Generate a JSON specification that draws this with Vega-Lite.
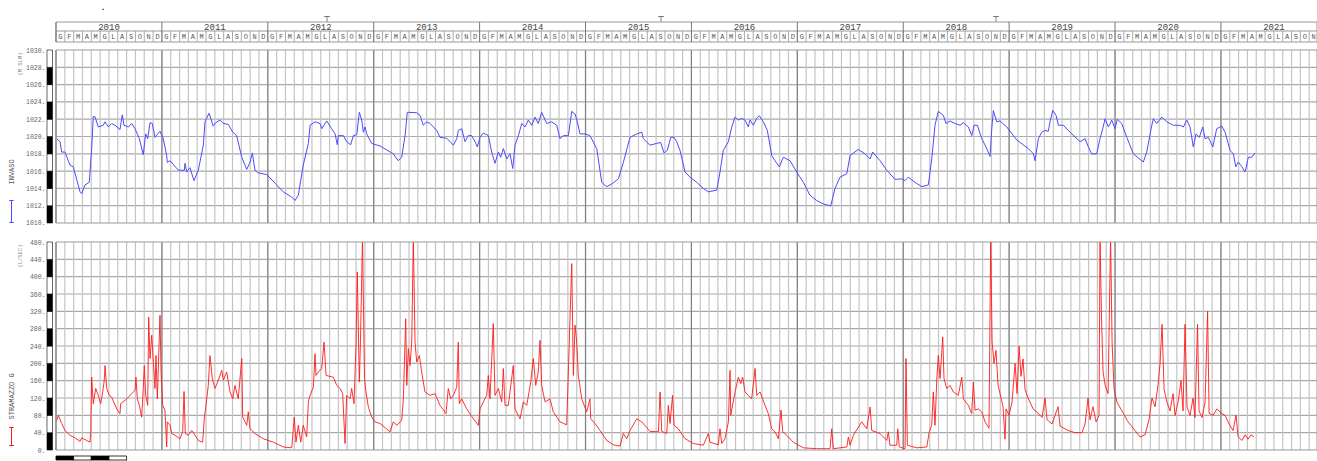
{
"$schema": "https://vega.github.io/schema/vega-lite/v6.json",
"background": "white",
"padding": {"left": 0, "top": 0, "right": 0, "bottom": 0},
"bounds": "flush",
"spacing": 0,
"resolve": {"scale": {"color": "independent"}, "legend": {"color": "independent"}},
"config": {"view": {"stroke": null}, "title": {"fontWeight": "normal"}},
"datasets": {
"anni": [{"anno":2010},{"anno":2011},{"anno":2012},{"anno":2013},{"anno":2014},{"anno":2015},{"anno":2016},{"anno":2017},{"anno":2018},{"anno":2019},{"anno":2020},{"anno":2021}],
"mesi": [
{"inizio":2010,"lettera":"G"},{"inizio":2010.0833,"lettera":"F"},{"inizio":2010.1667,"lettera":"M"},{"inizio":2010.25,"lettera":"A"},{"inizio":2010.3333,"lettera":"M"},{"inizio":2010.4167,"lettera":"G"},{"inizio":2010.5,"lettera":"L"},{"inizio":2010.5833,"lettera":"A"},{"inizio":2010.6667,"lettera":"S"},{"inizio":2010.75,"lettera":"O"},{"inizio":2010.8333,"lettera":"N"},{"inizio":2010.9167,"lettera":"D"},
{"inizio":2011,"lettera":"G"},{"inizio":2011.0833,"lettera":"F"},{"inizio":2011.1667,"lettera":"M"},{"inizio":2011.25,"lettera":"A"},{"inizio":2011.3333,"lettera":"M"},{"inizio":2011.4167,"lettera":"G"},{"inizio":2011.5,"lettera":"L"},{"inizio":2011.5833,"lettera":"A"},{"inizio":2011.6667,"lettera":"S"},{"inizio":2011.75,"lettera":"O"},{"inizio":2011.8333,"lettera":"N"},{"inizio":2011.9167,"lettera":"D"},
{"inizio":2012,"lettera":"G"},{"inizio":2012.0833,"lettera":"F"},{"inizio":2012.1667,"lettera":"M"},{"inizio":2012.25,"lettera":"A"},{"inizio":2012.3333,"lettera":"M"},{"inizio":2012.4167,"lettera":"G"},{"inizio":2012.5,"lettera":"L"},{"inizio":2012.5833,"lettera":"A"},{"inizio":2012.6667,"lettera":"S"},{"inizio":2012.75,"lettera":"O"},{"inizio":2012.8333,"lettera":"N"},{"inizio":2012.9167,"lettera":"D"},
{"inizio":2013,"lettera":"G"},{"inizio":2013.0833,"lettera":"F"},{"inizio":2013.1667,"lettera":"M"},{"inizio":2013.25,"lettera":"A"},{"inizio":2013.3333,"lettera":"M"},{"inizio":2013.4167,"lettera":"G"},{"inizio":2013.5,"lettera":"L"},{"inizio":2013.5833,"lettera":"A"},{"inizio":2013.6667,"lettera":"S"},{"inizio":2013.75,"lettera":"O"},{"inizio":2013.8333,"lettera":"N"},{"inizio":2013.9167,"lettera":"D"},
{"inizio":2014,"lettera":"G"},{"inizio":2014.0833,"lettera":"F"},{"inizio":2014.1667,"lettera":"M"},{"inizio":2014.25,"lettera":"A"},{"inizio":2014.3333,"lettera":"M"},{"inizio":2014.4167,"lettera":"G"},{"inizio":2014.5,"lettera":"L"},{"inizio":2014.5833,"lettera":"A"},{"inizio":2014.6667,"lettera":"S"},{"inizio":2014.75,"lettera":"O"},{"inizio":2014.8333,"lettera":"N"},{"inizio":2014.9167,"lettera":"D"},
{"inizio":2015,"lettera":"G"},{"inizio":2015.0833,"lettera":"F"},{"inizio":2015.1667,"lettera":"M"},{"inizio":2015.25,"lettera":"A"},{"inizio":2015.3333,"lettera":"M"},{"inizio":2015.4167,"lettera":"G"},{"inizio":2015.5,"lettera":"L"},{"inizio":2015.5833,"lettera":"A"},{"inizio":2015.6667,"lettera":"S"},{"inizio":2015.75,"lettera":"O"},{"inizio":2015.8333,"lettera":"N"},{"inizio":2015.9167,"lettera":"D"},
{"inizio":2016,"lettera":"G"},{"inizio":2016.0833,"lettera":"F"},{"inizio":2016.1667,"lettera":"M"},{"inizio":2016.25,"lettera":"A"},{"inizio":2016.3333,"lettera":"M"},{"inizio":2016.4167,"lettera":"G"},{"inizio":2016.5,"lettera":"L"},{"inizio":2016.5833,"lettera":"A"},{"inizio":2016.6667,"lettera":"S"},{"inizio":2016.75,"lettera":"O"},{"inizio":2016.8333,"lettera":"N"},{"inizio":2016.9167,"lettera":"D"},
{"inizio":2017,"lettera":"G"},{"inizio":2017.0833,"lettera":"F"},{"inizio":2017.1667,"lettera":"M"},{"inizio":2017.25,"lettera":"A"},{"inizio":2017.3333,"lettera":"M"},{"inizio":2017.4167,"lettera":"G"},{"inizio":2017.5,"lettera":"L"},{"inizio":2017.5833,"lettera":"A"},{"inizio":2017.6667,"lettera":"S"},{"inizio":2017.75,"lettera":"O"},{"inizio":2017.8333,"lettera":"N"},{"inizio":2017.9167,"lettera":"D"},
{"inizio":2018,"lettera":"G"},{"inizio":2018.0833,"lettera":"F"},{"inizio":2018.1667,"lettera":"M"},{"inizio":2018.25,"lettera":"A"},{"inizio":2018.3333,"lettera":"M"},{"inizio":2018.4167,"lettera":"G"},{"inizio":2018.5,"lettera":"L"},{"inizio":2018.5833,"lettera":"A"},{"inizio":2018.6667,"lettera":"S"},{"inizio":2018.75,"lettera":"O"},{"inizio":2018.8333,"lettera":"N"},{"inizio":2018.9167,"lettera":"D"},
{"inizio":2019,"lettera":"G"},{"inizio":2019.0833,"lettera":"F"},{"inizio":2019.1667,"lettera":"M"},{"inizio":2019.25,"lettera":"A"},{"inizio":2019.3333,"lettera":"M"},{"inizio":2019.4167,"lettera":"G"},{"inizio":2019.5,"lettera":"L"},{"inizio":2019.5833,"lettera":"A"},{"inizio":2019.6667,"lettera":"S"},{"inizio":2019.75,"lettera":"O"},{"inizio":2019.8333,"lettera":"N"},{"inizio":2019.9167,"lettera":"D"},
{"inizio":2020,"lettera":"G"},{"inizio":2020.0833,"lettera":"F"},{"inizio":2020.1667,"lettera":"M"},{"inizio":2020.25,"lettera":"A"},{"inizio":2020.3333,"lettera":"M"},{"inizio":2020.4167,"lettera":"G"},{"inizio":2020.5,"lettera":"L"},{"inizio":2020.5833,"lettera":"A"},{"inizio":2020.6667,"lettera":"S"},{"inizio":2020.75,"lettera":"O"},{"inizio":2020.8333,"lettera":"N"},{"inizio":2020.9167,"lettera":"D"},
{"inizio":2021,"lettera":"G"},{"inizio":2021.0833,"lettera":"F"},{"inizio":2021.1667,"lettera":"M"},{"inizio":2021.25,"lettera":"A"},{"inizio":2021.3333,"lettera":"M"},{"inizio":2021.4167,"lettera":"G"},{"inizio":2021.5,"lettera":"L"},{"inizio":2021.5833,"lettera":"A"},{"inizio":2021.6667,"lettera":"S"},{"inizio":2021.75,"lettera":"O"},{"inizio":2021.8333,"lettera":"N"}
],
"strisce_invaso": [{"da":1010,"a":1012,"tono":"scuro"},{"da":1012,"a":1014,"tono":"chiaro"},{"da":1014,"a":1016,"tono":"scuro"},{"da":1016,"a":1018,"tono":"chiaro"},{"da":1018,"a":1020,"tono":"scuro"},{"da":1020,"a":1022,"tono":"chiaro"},{"da":1022,"a":1024,"tono":"scuro"},{"da":1024,"a":1026,"tono":"chiaro"},{"da":1026,"a":1028,"tono":"scuro"},{"da":1028,"a":1030,"tono":"chiaro"}],
"strisce_portata": [{"da":0,"a":40,"tono":"scuro"},{"da":40,"a":80,"tono":"chiaro"},{"da":80,"a":120,"tono":"scuro"},{"da":120,"a":160,"tono":"chiaro"},{"da":160,"a":200,"tono":"scuro"},{"da":200,"a":240,"tono":"chiaro"},{"da":240,"a":280,"tono":"scuro"},{"da":280,"a":320,"tono":"chiaro"},{"da":320,"a":360,"tono":"scuro"},{"da":360,"a":400,"tono":"chiaro"},{"da":400,"a":440,"tono":"scuro"},{"da":440,"a":480,"tono":"chiaro"}],
"scala": [{"da":2010,"a":2010.1667,"tono":"scuro"},{"da":2010.1667,"a":2010.3333,"tono":"chiaro"},{"da":2010.3333,"a":2010.5,"tono":"scuro"},{"da":2010.5,"a":2010.6667,"tono":"chiaro"}],
"invaso": [
{"t":2010.007,"livello":1019.75},{"t":2010.038,"livello":1019.4},{"t":2010.054,"livello":1018.2},{"t":2010.085,"livello":1018.2},{"t":2010.132,"livello":1016.7},{"t":2010.163,"livello":1016.5},{"t":2010.227,"livello":1013.6},{"t":2010.243,"livello":1013.4},{"t":2010.274,"livello":1014.4},{"t":2010.314,"livello":1014.7},{"t":2010.337,"livello":1018.6},{"t":2010.352,"livello":1022.3},{"t":2010.368,"livello":1022.3},{"t":2010.399,"livello":1021.1},{"t":2010.447,"livello":1021.3},{"t":2010.463,"livello":1021.7},{"t":2010.494,"livello":1021.1},{"t":2010.526,"livello":1021.5},{"t":2010.557,"livello":1021.3},{"t":2010.604,"livello":1020.8},{"t":2010.626,"livello":1022.5},{"t":2010.642,"livello":1021.3},{"t":2010.683,"livello":1021.1},{"t":2010.715,"livello":1021.5},{"t":2010.746,"livello":1020.9},{"t":2010.787,"livello":1019.75},{"t":2010.824,"livello":1017.9},{"t":2010.847,"livello":1020.3},{"t":2010.866,"livello":1019.75},{"t":2010.888,"livello":1021.6},{"t":2010.909,"livello":1021.5},{"t":2010.935,"livello":1019.9},{"t":2010.982,"livello":1020.6},
{"t":2011.013,"livello":1019.75},{"t":2011.045,"livello":1017.8},{"t":2011.051,"livello":1017.0},{"t":2011.077,"livello":1017.2},{"t":2011.155,"livello":1016.1},{"t":2011.212,"livello":1016.1},{"t":2011.218,"livello":1016.9},{"t":2011.234,"livello":1015.9},{"t":2011.265,"livello":1016.4},{"t":2011.303,"livello":1014.9},{"t":2011.344,"livello":1016.1},{"t":2011.391,"livello":1019.0},{"t":2011.407,"livello":1021.7},{"t":2011.445,"livello":1022.7},{"t":2011.485,"livello":1021.2},{"t":2011.508,"livello":1021.6},{"t":2011.549,"livello":1021.9},{"t":2011.58,"livello":1021.5},{"t":2011.627,"livello":1021.4},{"t":2011.669,"livello":1020.5},{"t":2011.706,"livello":1020.1},{"t":2011.754,"livello":1017.6},{"t":2011.801,"livello":1016.2},{"t":2011.832,"livello":1017.0},{"t":2011.854,"livello":1018.1},{"t":2011.879,"livello":1016.1},{"t":2011.91,"livello":1015.8},{"t":2011.99,"livello":1015.6},
{"t":2012.084,"livello":1014.4},{"t":2012.146,"livello":1013.6},{"t":2012.226,"livello":1013.0},{"t":2012.257,"livello":1012.6},{"t":2012.288,"livello":1013.2},{"t":2012.335,"livello":1016.7},{"t":2012.383,"livello":1019.2},{"t":2012.399,"livello":1021.3},{"t":2012.446,"livello":1021.7},{"t":2012.493,"livello":1021.5},{"t":2012.509,"livello":1020.9},{"t":2012.556,"livello":1021.8},{"t":2012.603,"livello":1020.9},{"t":2012.635,"livello":1020.3},{"t":2012.656,"livello":1019.05},{"t":2012.666,"livello":1020.1},{"t":2012.713,"livello":1020.1},{"t":2012.745,"livello":1019.4},{"t":2012.783,"livello":1019.05},{"t":2012.807,"livello":1020.1},{"t":2012.84,"livello":1020.2},{"t":2012.864,"livello":1022.8},{"t":2012.887,"livello":1021.9},{"t":2012.902,"livello":1020.5},{"t":2012.918,"livello":1021.1},{"t":2012.934,"livello":1020.3},{"t":2012.981,"livello":1019.2},
{"t":2013.06,"livello":1018.9},{"t":2013.185,"livello":1018.0},{"t":2013.232,"livello":1017.2},{"t":2013.264,"livello":1017.6},{"t":2013.296,"livello":1020.1},{"t":2013.317,"livello":1022.8},{"t":2013.406,"livello":1022.75},{"t":2013.437,"livello":1022.45},{"t":2013.468,"livello":1021.3},{"t":2013.5,"livello":1021.7},{"t":2013.532,"livello":1021.5},{"t":2013.595,"livello":1020.7},{"t":2013.626,"livello":1019.9},{"t":2013.689,"livello":1019.8},{"t":2013.752,"livello":1019.0},{"t":2013.784,"livello":1019.75},{"t":2013.799,"livello":1020.7},{"t":2013.831,"livello":1020.9},{"t":2013.862,"livello":1019.4},{"t":2013.893,"livello":1020.1},{"t":2013.925,"livello":1020.1},{"t":2013.957,"livello":1019.4},{"t":2013.978,"livello":1018.8},
{"t":2014.004,"livello":1019.9},{"t":2014.035,"livello":1020.4},{"t":2014.082,"livello":1020.1},{"t":2014.114,"livello":1018.2},{"t":2014.145,"livello":1016.9},{"t":2014.177,"livello":1018.2},{"t":2014.199,"livello":1017.6},{"t":2014.224,"livello":1018.6},{"t":2014.256,"livello":1017.4},{"t":2014.287,"livello":1018.0},{"t":2014.313,"livello":1016.3},{"t":2014.334,"livello":1019.0},{"t":2014.366,"livello":1020.1},{"t":2014.398,"livello":1021.5},{"t":2014.429,"livello":1021.1},{"t":2014.46,"livello":1021.9},{"t":2014.492,"livello":1021.3},{"t":2014.523,"livello":1022.25},{"t":2014.554,"livello":1021.5},{"t":2014.586,"livello":1022.8},{"t":2014.634,"livello":1021.5},{"t":2014.681,"livello":1021.7},{"t":2014.728,"livello":1021.3},{"t":2014.759,"livello":1019.75},{"t":2014.79,"livello":1020.1},{"t":2014.838,"livello":1020.1},{"t":2014.87,"livello":1022.9},{"t":2014.901,"livello":1022.6},{"t":2014.923,"livello":1021.7},{"t":2014.948,"livello":1020.3},{"t":2014.995,"livello":1020.3},
{"t":2015.042,"livello":1020.1},{"t":2015.106,"livello":1018.6},{"t":2015.153,"livello":1014.7},{"t":2015.2,"livello":1014.2},{"t":2015.247,"livello":1014.5},{"t":2015.31,"livello":1015.1},{"t":2015.357,"livello":1017.0},{"t":2015.42,"livello":1019.9},{"t":2015.484,"livello":1020.3},{"t":2015.531,"livello":1020.5},{"t":2015.546,"livello":1019.75},{"t":2015.609,"livello":1019.0},{"t":2015.672,"livello":1019.2},{"t":2015.71,"livello":1019.3},{"t":2015.741,"livello":1018.1},{"t":2015.772,"livello":1018.4},{"t":2015.805,"livello":1019.9},{"t":2015.836,"livello":1019.9},{"t":2015.861,"livello":1019.4},{"t":2015.892,"livello":1018.4},{"t":2015.94,"livello":1015.9},{"t":2015.987,"livello":1015.3},
{"t":2016.05,"livello":1014.7},{"t":2016.112,"livello":1014.0},{"t":2016.16,"livello":1013.6},{"t":2016.239,"livello":1013.8},{"t":2016.27,"livello":1015.9},{"t":2016.301,"livello":1018.4},{"t":2016.349,"livello":1019.4},{"t":2016.381,"livello":1021.1},{"t":2016.412,"livello":1022.25},{"t":2016.443,"livello":1021.9},{"t":2016.475,"livello":1022.1},{"t":2016.506,"livello":1021.9},{"t":2016.537,"livello":1021.1},{"t":2016.553,"livello":1021.9},{"t":2016.585,"livello":1021.3},{"t":2016.617,"livello":1022.1},{"t":2016.641,"livello":1022.4},{"t":2016.679,"livello":1021.7},{"t":2016.717,"livello":1020.7},{"t":2016.758,"livello":1017.8},{"t":2016.789,"livello":1017.2},{"t":2016.83,"livello":1016.5},{"t":2016.868,"livello":1017.6},{"t":2016.931,"livello":1017.2},{"t":2016.994,"livello":1015.9},
{"t":2017.057,"livello":1014.7},{"t":2017.12,"livello":1013.2},{"t":2017.183,"livello":1012.6},{"t":2017.246,"livello":1012.2},{"t":2017.315,"livello":1011.97},{"t":2017.356,"livello":1014.0},{"t":2017.403,"livello":1015.3},{"t":2017.467,"livello":1015.7},{"t":2017.498,"livello":1017.8},{"t":2017.576,"livello":1018.5},{"t":2017.639,"livello":1018.0},{"t":2017.687,"livello":1017.4},{"t":2017.712,"livello":1018.2},{"t":2017.781,"livello":1017.2},{"t":2017.844,"livello":1016.1},{"t":2017.923,"livello":1015.05},{"t":2017.986,"livello":1015.1},
{"t":2018.017,"livello":1014.9},{"t":2018.048,"livello":1015.3},{"t":2018.111,"livello":1014.7},{"t":2018.175,"livello":1014.2},{"t":2018.237,"livello":1014.4},{"t":2018.269,"livello":1017.4},{"t":2018.3,"livello":1021.3},{"t":2018.331,"livello":1022.9},{"t":2018.379,"livello":1022.45},{"t":2018.404,"livello":1021.5},{"t":2018.442,"livello":1021.8},{"t":2018.489,"livello":1021.5},{"t":2018.536,"livello":1021.3},{"t":2018.568,"livello":1021.6},{"t":2018.615,"livello":1021.1},{"t":2018.647,"livello":1020.1},{"t":2018.669,"livello":1021.3},{"t":2018.7,"livello":1021.3},{"t":2018.741,"livello":1019.75},{"t":2018.773,"livello":1019.0},{"t":2018.82,"livello":1017.7},{"t":2018.836,"livello":1020.9},{"t":2018.851,"livello":1023.0},{"t":2018.883,"livello":1021.7},{"t":2018.914,"livello":1021.8},{"t":2018.977,"livello":1021.1},
{"t":2019.072,"livello":1019.6},{"t":2019.181,"livello":1018.6},{"t":2019.229,"livello":1018.0},{"t":2019.245,"livello":1017.2},{"t":2019.276,"livello":1019.75},{"t":2019.308,"livello":1020.5},{"t":2019.339,"livello":1020.7},{"t":2019.37,"livello":1020.6},{"t":2019.386,"livello":1021.7},{"t":2019.412,"livello":1023.0},{"t":2019.443,"livello":1022.45},{"t":2019.465,"livello":1021.3},{"t":2019.512,"livello":1021.3},{"t":2019.575,"livello":1020.5},{"t":2019.67,"livello":1019.4},{"t":2019.717,"livello":1019.75},{"t":2019.748,"livello":1018.8},{"t":2019.78,"livello":1018.0},{"t":2019.827,"livello":1018.0},{"t":2019.858,"livello":1019.75},{"t":2019.884,"livello":1020.9},{"t":2019.906,"livello":1022.05},{"t":2019.937,"livello":1021.1},{"t":2019.969,"livello":1021.9},
{"t":2020.0,"livello":1020.9},{"t":2020.022,"livello":1022.0},{"t":2020.063,"livello":1021.5},{"t":2020.111,"livello":1019.9},{"t":2020.173,"livello":1018.0},{"t":2020.267,"livello":1017.05},{"t":2020.299,"livello":1018.2},{"t":2020.347,"livello":1021.3},{"t":2020.362,"livello":1022.05},{"t":2020.394,"livello":1021.5},{"t":2020.441,"livello":1022.25},{"t":2020.488,"livello":1021.7},{"t":2020.551,"livello":1021.3},{"t":2020.614,"livello":1021.3},{"t":2020.645,"livello":1021.1},{"t":2020.677,"livello":1021.9},{"t":2020.708,"livello":1021.1},{"t":2020.739,"livello":1018.8},{"t":2020.765,"livello":1020.3},{"t":2020.796,"livello":1019.9},{"t":2020.828,"livello":1021.1},{"t":2020.85,"livello":1019.75},{"t":2020.881,"livello":1019.9},{"t":2020.923,"livello":1018.8},{"t":2020.96,"livello":1020.9},
{"t":2021.008,"livello":1021.2},{"t":2021.039,"livello":1020.5},{"t":2021.086,"livello":1018.4},{"t":2021.117,"livello":1018.0},{"t":2021.14,"livello":1016.5},{"t":2021.164,"livello":1017.05},{"t":2021.197,"livello":1016.5},{"t":2021.228,"livello":1015.9},{"t":2021.259,"livello":1017.6},{"t":2021.291,"livello":1017.6},{"t":2021.322,"livello":1018.1}
],
"stramazzo": [
{"t":2010.007,"portata":68},{"t":2010.022,"portata":80},{"t":2010.054,"portata":61},{"t":2010.085,"portata":45},{"t":2010.132,"portata":34},{"t":2010.179,"portata":28},{"t":2010.227,"portata":20},{"t":2010.243,"portata":28},{"t":2010.29,"portata":22},{"t":2010.321,"portata":18},{"t":2010.328,"portata":42},{"t":2010.337,"portata":168},{"t":2010.352,"portata":107},{"t":2010.375,"portata":142},{"t":2010.399,"portata":126},{"t":2010.422,"portata":107},{"t":2010.441,"portata":134},{"t":2010.456,"portata":161},{"t":2010.463,"portata":195},{"t":2010.479,"portata":142},{"t":2010.503,"portata":126},{"t":2010.526,"portata":122},{"t":2010.573,"portata":95},{"t":2010.604,"portata":84},{"t":2010.611,"portata":107},{"t":2010.668,"portata":118},{"t":2010.746,"portata":138},{"t":2010.755,"portata":168},{"t":2010.768,"portata":118},{"t":2010.787,"portata":103},{"t":2010.809,"portata":76},{"t":2010.824,"portata":142},{"t":2010.834,"portata":195},{"t":2010.847,"portata":126},{"t":2010.866,"portata":103},{"t":2010.875,"portata":307},{"t":2010.888,"portata":211},{"t":2010.904,"portata":265},{"t":2010.919,"portata":203},{"t":2010.935,"portata":142},{"t":2010.944,"portata":218},{"t":2010.957,"portata":118},{"t":2010.982,"portata":311},{"t":2010.992,"portata":180},
{"t":2011.008,"portata":103},{"t":2011.029,"portata":92},{"t":2011.045,"portata":7},{"t":2011.051,"portata":65},{"t":2011.077,"portata":57},{"t":2011.093,"portata":38},{"t":2011.124,"portata":34},{"t":2011.171,"portata":26},{"t":2011.196,"portata":42},{"t":2011.209,"portata":135},{"t":2011.221,"portata":38},{"t":2011.249,"portata":34},{"t":2011.281,"portata":45},{"t":2011.303,"portata":38},{"t":2011.344,"portata":22},{"t":2011.385,"portata":18},{"t":2011.4,"portata":72},{"t":2011.416,"portata":103},{"t":2011.438,"portata":149},{"t":2011.454,"portata":218},{"t":2011.476,"portata":165},{"t":2011.501,"portata":142},{"t":2011.533,"portata":161},{"t":2011.565,"portata":184},{"t":2011.58,"portata":161},{"t":2011.612,"portata":180},{"t":2011.643,"portata":134},{"t":2011.669,"portata":118},{"t":2011.69,"portata":149},{"t":2011.721,"portata":118},{"t":2011.754,"portata":211},{"t":2011.763,"portata":76},{"t":2011.801,"portata":57},{"t":2011.816,"portata":88},{"t":2011.832,"portata":49},{"t":2011.879,"portata":38},{"t":2011.958,"portata":26},
{"t":2012.052,"portata":18},{"t":2012.146,"portata":7},{"t":2012.226,"portata":5},{"t":2012.25,"portata":76},{"t":2012.266,"portata":18},{"t":2012.288,"portata":57},{"t":2012.311,"portata":18},{"t":2012.335,"portata":57},{"t":2012.367,"portata":30},{"t":2012.383,"portata":111},{"t":2012.399,"portata":126},{"t":2012.43,"portata":145},{"t":2012.446,"portata":222},{"t":2012.455,"portata":172},{"t":2012.477,"portata":180},{"t":2012.509,"portata":188},{"t":2012.531,"portata":249},{"t":2012.55,"portata":172},{"t":2012.619,"portata":168},{"t":2012.651,"portata":149},{"t":2012.682,"portata":142},{"t":2012.707,"portata":130},{"t":2012.729,"portata":15},{"t":2012.745,"portata":126},{"t":2012.776,"portata":118},{"t":2012.792,"portata":142},{"t":2012.814,"portata":107},{"t":2012.833,"portata":242},{"t":2012.845,"portata":411},{"t":2012.864,"portata":157},{"t":2012.875,"portata":250},{"t":2012.894,"portata":490},{"t":2012.913,"portata":165},{"t":2012.927,"portata":134},{"t":2012.949,"portata":100},{"t":2012.981,"portata":76},
{"t":2013.012,"portata":65},{"t":2013.06,"portata":61},{"t":2013.154,"portata":42},{"t":2013.185,"portata":65},{"t":2013.217,"portata":57},{"t":2013.264,"portata":68},{"t":2013.28,"portata":118},{"t":2013.302,"portata":303},{"t":2013.312,"portata":149},{"t":2013.327,"portata":234},{"t":2013.343,"portata":195},{"t":2013.359,"portata":249},{"t":2013.374,"portata":490},{"t":2013.39,"portata":249},{"t":2013.406,"portata":203},{"t":2013.431,"portata":218},{"t":2013.453,"portata":180},{"t":2013.484,"portata":134},{"t":2013.532,"portata":126},{"t":2013.579,"portata":130},{"t":2013.626,"portata":103},{"t":2013.683,"portata":84},{"t":2013.704,"portata":142},{"t":2013.727,"portata":118},{"t":2013.752,"portata":126},{"t":2013.784,"portata":145},{"t":2013.799,"portata":249},{"t":2013.808,"portata":107},{"t":2013.831,"portata":118},{"t":2013.878,"portata":95},{"t":2013.941,"portata":72},{"t":2013.988,"portata":57},
{"t":2014.004,"portata":95},{"t":2014.035,"portata":111},{"t":2014.067,"portata":126},{"t":2014.082,"portata":172},{"t":2014.098,"portata":118},{"t":2014.129,"portata":292},{"t":2014.145,"portata":126},{"t":2014.177,"portata":142},{"t":2014.209,"portata":111},{"t":2014.224,"portata":188},{"t":2014.24,"portata":103},{"t":2014.271,"portata":103},{"t":2014.318,"portata":195},{"t":2014.334,"portata":95},{"t":2014.382,"portata":72},{"t":2014.413,"portata":111},{"t":2014.445,"portata":103},{"t":2014.483,"portata":157},{"t":2014.507,"portata":211},{"t":2014.53,"portata":149},{"t":2014.554,"portata":180},{"t":2014.57,"portata":253},{"t":2014.586,"portata":149},{"t":2014.618,"portata":111},{"t":2014.665,"portata":118},{"t":2014.696,"portata":88},{"t":2014.759,"portata":65},{"t":2014.822,"portata":58},{"t":2014.838,"portata":180},{"t":2014.854,"portata":307},{"t":2014.87,"portata":430},{"t":2014.885,"portata":172},{"t":2014.901,"portata":288},{"t":2014.917,"portata":249},{"t":2014.932,"portata":172},{"t":2014.964,"portata":118},
{"t":2015.011,"portata":88},{"t":2015.042,"portata":118},{"t":2015.049,"portata":72},{"t":2015.09,"portata":61},{"t":2015.137,"portata":45},{"t":2015.2,"portata":22},{"t":2015.263,"portata":12},{"t":2015.326,"portata":9},{"t":2015.357,"portata":38},{"t":2015.389,"portata":26},{"t":2015.42,"portata":45},{"t":2015.484,"portata":72},{"t":2015.531,"portata":65},{"t":2015.609,"portata":43},{"t":2015.688,"portata":42},{"t":2015.704,"portata":134},{"t":2015.72,"portata":43},{"t":2015.767,"portata":38},{"t":2015.782,"portata":103},{"t":2015.798,"portata":61},{"t":2015.822,"portata":126},{"t":2015.836,"portata":57},{"t":2015.876,"portata":49},{"t":2015.94,"portata":26},
{"t":2016.018,"portata":15},{"t":2016.112,"portata":11},{"t":2016.16,"portata":38},{"t":2016.176,"portata":18},{"t":2016.254,"portata":12},{"t":2016.27,"portata":49},{"t":2016.286,"portata":15},{"t":2016.317,"portata":26},{"t":2016.349,"portata":65},{"t":2016.365,"portata":184},{"t":2016.371,"portata":80},{"t":2016.412,"portata":134},{"t":2016.443,"portata":168},{"t":2016.466,"portata":153},{"t":2016.484,"portata":168},{"t":2016.506,"portata":134},{"t":2016.537,"portata":126},{"t":2016.569,"portata":118},{"t":2016.601,"portata":188},{"t":2016.617,"portata":126},{"t":2016.648,"portata":134},{"t":2016.695,"portata":103},{"t":2016.726,"portata":84},{"t":2016.758,"portata":49},{"t":2016.789,"portata":42},{"t":2016.821,"portata":26},{"t":2016.846,"portata":92},{"t":2016.862,"portata":42},{"t":2016.9,"portata":34},{"t":2016.962,"portata":18},
{"t":2017.057,"portata":5},{"t":2017.183,"portata":3},{"t":2017.309,"portata":3},{"t":2017.325,"portata":49},{"t":2017.34,"portata":3},{"t":2017.467,"portata":7},{"t":2017.482,"portata":30},{"t":2017.498,"portata":11},{"t":2017.529,"portata":34},{"t":2017.608,"portata":65},{"t":2017.655,"portata":49},{"t":2017.687,"portata":99},{"t":2017.703,"portata":45},{"t":2017.781,"portata":38},{"t":2017.844,"portata":22},{"t":2017.859,"portata":42},{"t":2017.875,"portata":11},{"t":2017.939,"portata":11},{"t":2017.948,"portata":49},{"t":2017.963,"portata":7},
{"t":2018.017,"portata":3},{"t":2018.026,"portata":211},{"t":2018.039,"portata":11},{"t":2018.128,"portata":5},{"t":2018.222,"portata":7},{"t":2018.246,"portata":42},{"t":2018.269,"portata":57},{"t":2018.284,"portata":134},{"t":2018.3,"portata":57},{"t":2018.316,"portata":157},{"t":2018.331,"portata":218},{"t":2018.348,"portata":165},{"t":2018.373,"portata":261},{"t":2018.385,"portata":165},{"t":2018.411,"portata":142},{"t":2018.442,"portata":149},{"t":2018.473,"portata":134},{"t":2018.52,"portata":126},{"t":2018.553,"portata":168},{"t":2018.568,"portata":118},{"t":2018.615,"portata":103},{"t":2018.647,"portata":84},{"t":2018.662,"portata":157},{"t":2018.678,"portata":92},{"t":2018.709,"portata":95},{"t":2018.741,"portata":88},{"t":2018.773,"portata":65},{"t":2018.81,"portata":50},{"t":2018.826,"portata":490},{"t":2018.839,"portata":250},{"t":2018.857,"portata":200},{"t":2018.876,"portata":230},{"t":2018.895,"portata":150},{"t":2018.914,"portata":130},{"t":2018.942,"portata":100},{"t":2018.961,"portata":25},{"t":2018.971,"portata":95},{"t":2018.999,"portata":80},
{"t":2019.027,"portata":110},{"t":2019.056,"portata":200},{"t":2019.075,"portata":130},{"t":2019.094,"portata":240},{"t":2019.112,"portata":170},{"t":2019.131,"portata":210},{"t":2019.15,"portata":140},{"t":2019.179,"portata":120},{"t":2019.226,"portata":95},{"t":2019.273,"portata":85},{"t":2019.311,"portata":75},{"t":2019.339,"portata":120},{"t":2019.358,"portata":70},{"t":2019.405,"portata":60},{"t":2019.462,"portata":100},{"t":2019.481,"portata":55},{"t":2019.556,"portata":45},{"t":2019.622,"portata":40},{"t":2019.688,"portata":40},{"t":2019.717,"portata":60},{"t":2019.745,"portata":120},{"t":2019.764,"portata":70},{"t":2019.792,"portata":100},{"t":2019.821,"portata":65},{"t":2019.849,"portata":80},{"t":2019.858,"portata":490},{"t":2019.873,"portata":300},{"t":2019.887,"portata":180},{"t":2019.906,"portata":150},{"t":2019.934,"portata":130},{"t":2019.958,"portata":490},{"t":2019.972,"portata":250},{"t":2019.991,"portata":140},
{"t":2020.019,"portata":110},{"t":2020.066,"portata":90},{"t":2020.123,"portata":65},{"t":2020.189,"portata":45},{"t":2020.236,"portata":30},{"t":2020.283,"portata":35},{"t":2020.321,"portata":70},{"t":2020.349,"portata":120},{"t":2020.378,"portata":100},{"t":2020.406,"portata":150},{"t":2020.425,"portata":200},{"t":2020.444,"portata":290},{"t":2020.463,"portata":140},{"t":2020.491,"portata":110},{"t":2020.519,"portata":90},{"t":2020.548,"portata":130},{"t":2020.567,"portata":80},{"t":2020.595,"portata":110},{"t":2020.623,"portata":160},{"t":2020.642,"portata":90},{"t":2020.661,"portata":290},{"t":2020.68,"portata":100},{"t":2020.708,"portata":80},{"t":2020.737,"portata":120},{"t":2020.755,"portata":75},{"t":2020.779,"portata":290},{"t":2020.793,"portata":90},{"t":2020.822,"portata":75},{"t":2020.85,"portata":110},{"t":2020.874,"portata":320},{"t":2020.888,"portata":85},{"t":2020.925,"portata":80},{"t":2020.963,"portata":95},
{"t":2021.001,"portata":85},{"t":2021.039,"portata":80},{"t":2021.077,"portata":60},{"t":2021.114,"portata":45},{"t":2021.143,"portata":80},{"t":2021.162,"portata":30},{"t":2021.199,"portata":22},{"t":2021.228,"portata":35},{"t":2021.256,"portata":25},{"t":2021.284,"portata":35},{"t":2021.313,"portata":30}
]
},
"vconcat": [
{
"width": 1271, "height": 48,
"layer": [
{"data": {"values": [{"t": 2012.559}, {"t": 2015.713}, {"t": 2018.876}]},
 "mark": {"type": "text", "text": "┬", "fontSize": 9, "fill": "#555555", "baseline": "middle", "font": "DejaVu Sans Mono"},
 "encoding": {"x": {"field": "t", "type": "quantitative", "scale": {"domain": [2009.9056, 2021.907], "nice": false, "zero": false}, "axis": null},
  "y": {"datum": 33, "type": "quantitative", "scale": {"domain": [0, 48], "nice": false, "zero": false}, "axis": null}}},
{"data": {"values": [{"t": 2010.444}]},
 "mark": {"type": "text", "text": ".", "fontSize": 11, "fill": "#222222", "baseline": "middle", "font": "DejaVu Sans"},
 "encoding": {"x": {"field": "t", "type": "quantitative", "scale": {"domain": [2009.9056, 2021.907], "nice": false, "zero": false}, "axis": null},
  "y": {"datum": 43, "type": "quantitative", "scale": {"domain": [0, 48], "nice": false, "zero": false}, "axis": null}}},
{"data": {"values": [{}]},
 "mark": {"type": "rect", "fill": "#ffffff", "stroke": "#999999", "strokeWidth": 1},
 "encoding": {"x": {"datum": 2010, "type": "quantitative", "scale": {"domain": [2009.9056, 2021.907], "nice": false, "zero": false}, "axis": null}, "x2": {"datum": 2021.907},
  "y": {"datum": 8, "type": "quantitative", "scale": {"domain": [0, 48], "nice": false, "zero": false}, "axis": null}, "y2": {"datum": 28}}},
{"data": {"name": "mesi"},
 "mark": {"type": "rule", "color": "#aaaaaa", "strokeWidth": 1},
 "encoding": {"x": {"field": "inizio", "type": "quantitative", "scale": {"domain": [2009.9056, 2021.907], "nice": false, "zero": false}, "axis": null},
  "y": {"datum": 8, "type": "quantitative", "scale": {"domain": [0, 48], "nice": false, "zero": false}, "axis": null}, "y2": {"datum": 19}}},
{"data": {"name": "mesi"},
 "mark": {"type": "text", "font": "Liberation Mono", "fontSize": 7, "fill": "#555555", "dx": 4.4, "align": "center", "baseline": "middle"},
 "encoding": {"x": {"field": "inizio", "type": "quantitative", "scale": {"domain": [2009.9056, 2021.907], "nice": false, "zero": false}, "axis": null},
  "y": {"datum": 13.5, "type": "quantitative", "scale": {"domain": [0, 48], "nice": false, "zero": false}, "axis": null},
  "text": {"field": "lettera", "type": "nominal"}}},
{"data": {"values": [{}]},
 "mark": {"type": "rule", "color": "#999999", "strokeWidth": 1},
 "encoding": {"x": {"datum": 2010, "type": "quantitative", "scale": {"domain": [2009.9056, 2021.907], "nice": false, "zero": false}, "axis": null}, "x2": {"datum": 2021.907},
  "y": {"datum": 19, "type": "quantitative", "scale": {"domain": [0, 48], "nice": false, "zero": false}, "axis": null}}},
{"data": {"name": "anni"},
 "mark": {"type": "rule", "color": "#777777", "strokeWidth": 1},
 "encoding": {"x": {"field": "anno", "type": "quantitative", "scale": {"domain": [2009.9056, 2021.907], "nice": false, "zero": false}, "axis": null},
  "y": {"datum": 8, "type": "quantitative", "scale": {"domain": [0, 48], "nice": false, "zero": false}, "axis": null}, "y2": {"datum": 28}}},
{"data": {"name": "anni"},
 "mark": {"type": "text", "font": "Liberation Mono", "fontSize": 9, "fill": "#444444", "dx": 53, "align": "center", "baseline": "middle"},
 "encoding": {"x": {"field": "anno", "type": "quantitative", "scale": {"domain": [2009.9056, 2021.907], "nice": false, "zero": false}, "axis": null},
  "y": {"datum": 23.5, "type": "quantitative", "scale": {"domain": [0, 48], "nice": false, "zero": false}, "axis": null},
  "text": {"field": "anno", "type": "quantitative", "format": "d"}}}
]
},
{
"width": 1271, "height": 192,
"resolve": {"axis": {"y": "independent"}},
"layer": [
{"data": {"name": "strisce_invaso"},
 "mark": {"type": "rect", "stroke": "#000000", "strokeWidth": 0.6},
 "encoding": {"x": {"datum": 2009.915, "type": "quantitative", "scale": {"domain": [2009.9056, 2021.907], "nice": false, "zero": false}, "axis": null}, "x2": {"datum": 2009.967},
  "y": {"field": "da", "type": "quantitative", "scale": {"domain": [1007.803, 1030], "nice": false, "zero": false}, "axis": null}, "y2": {"field": "a"},
  "fill": {"field": "tono", "type": "nominal", "scale": {"domain": ["scuro", "chiaro"], "range": ["#000000", "#ffffff"]}, "legend": null}}},
{"data": {"name": "strisce_invaso"}, "transform": [{"filter": "datum.da > 1010"}],
 "mark": {"type": "rule", "color": "#aaaaaa", "strokeWidth": 1.2},
 "encoding": {"x": {"datum": 2010, "type": "quantitative", "scale": {"domain": [2009.9056, 2021.907], "nice": false, "zero": false}, "axis": null}, "x2": {"datum": 2021.907},
  "y": {"field": "da", "type": "quantitative", "scale": {"domain": [1007.803, 1030], "nice": false, "zero": false}, "axis": null}}},
{"data": {"name": "mesi"},
 "mark": {"type": "rule", "color": "#c4c4c4", "strokeWidth": 1.2},
 "encoding": {"x": {"field": "inizio", "type": "quantitative", "scale": {"domain": [2009.9056, 2021.907], "nice": false, "zero": false}, "axis": null},
  "y": {"datum": 1010, "type": "quantitative", "scale": {"domain": [1007.803, 1030], "nice": false, "zero": false}, "axis": null}, "y2": {"datum": 1030}}},
{"data": {"name": "anni"},
 "mark": {"type": "rule", "color": "#808080", "strokeWidth": 1.2},
 "encoding": {"x": {"field": "anno", "type": "quantitative", "scale": {"domain": [2009.9056, 2021.907], "nice": false, "zero": false}, "axis": null},
  "y": {"datum": 1010, "type": "quantitative", "scale": {"domain": [1007.803, 1030], "nice": false, "zero": false}, "axis": null}, "y2": {"datum": 1030}}},
{"data": {"name": "invaso"},
 "mark": {"type": "line", "strokeWidth": 1},
 "encoding": {"x": {"field": "t", "type": "quantitative", "scale": {"domain": [2009.9056, 2021.907], "nice": false, "zero": false}, "axis": null},
  "y": {"field": "livello", "type": "quantitative", "scale": {"domain": [1007.803, 1030], "nice": false, "zero": false},
   "axis": {"orient": "left", "values": [1010, 1012, 1014, 1016, 1018, 1020, 1022, 1024, 1026, 1028, 1030], "labelExpr": "datum.value + '.'", "ticks": false, "domain": false, "grid": false,
    "labelFont": "Liberation Mono", "labelFontSize": 6.5, "labelColor": "#666666", "labelPadding": 1,
    "title": "(M SLM)", "titleX": -27, "titleY": 2, "titleAngle": 270, "titleAlign": "right", "titleBaseline": "middle", "titleFont": "Liberation Mono", "titleFontSize": 5.5, "titleFontWeight": "normal", "titleColor": "#888888"}},
  "color": {"datum": "INVASO", "type": "nominal", "scale": {"domain": ["INVASO"], "range": ["#4b4bff"]},
   "legend": {"orient": "none", "legendX": -46, "legendY": 150, "title": null, "labelExpr": "''", "labelFontSize": 1, "symbolType": "M-0.2,-1H0.2M0,-1V1M-0.2,1H0.2", "symbolSize": 484, "symbolStrokeWidth": 1, "symbolStrokeColor": "#4b4bff", "symbolFillColor": "transparent", "padding": 0}}}},
{"data": {"values": [{}]},
 "mark": {"type": "rect", "fillOpacity": 0, "stroke": "#999999", "strokeWidth": 1},
 "encoding": {"x": {"datum": 2010, "type": "quantitative", "scale": {"domain": [2009.9056, 2021.907], "nice": false, "zero": false}, "axis": null}, "x2": {"datum": 2021.907},
  "y": {"datum": 1010, "type": "quantitative", "scale": {"domain": [1007.803, 1030], "nice": false, "zero": false},
   "axis": {"orient": "left", "labels": false, "ticks": false, "domain": false, "grid": false,
    "title": "INVASO", "titleX": -34.5, "titleY": 134, "titleAngle": 270, "titleAlign": "left", "titleBaseline": "middle", "titleFont": "Liberation Mono", "titleFontSize": 7, "titleFontWeight": "normal", "titleColor": "#555555"}},
  "y2": {"datum": 1030}}}
]
},
{
"width": 1271, "height": 212,
"resolve": {"axis": {"y": "independent"}},
"layer": [
{"data": {"name": "strisce_portata"},
 "mark": {"type": "rect", "stroke": "#000000", "strokeWidth": 0.6},
 "encoding": {"x": {"datum": 2009.915, "type": "quantitative", "scale": {"domain": [2009.9056, 2021.907], "nice": false, "zero": false}, "axis": null}, "x2": {"datum": 2009.967},
  "y": {"field": "da", "type": "quantitative", "scale": {"domain": [-9.23, 480], "nice": false, "zero": false}, "axis": null}, "y2": {"field": "a"},
  "fill": {"field": "tono", "type": "nominal", "scale": {"domain": ["scuro", "chiaro"], "range": ["#000000", "#ffffff"]}, "legend": null}}},
{"data": {"name": "strisce_portata"}, "transform": [{"filter": "datum.da > 0"}],
 "mark": {"type": "rule", "color": "#aaaaaa", "strokeWidth": 1.2},
 "encoding": {"x": {"datum": 2010, "type": "quantitative", "scale": {"domain": [2009.9056, 2021.907], "nice": false, "zero": false}, "axis": null}, "x2": {"datum": 2021.907},
  "y": {"field": "da", "type": "quantitative", "scale": {"domain": [-9.23, 480], "nice": false, "zero": false}, "axis": null}}},
{"data": {"name": "mesi"},
 "mark": {"type": "rule", "color": "#c4c4c4", "strokeWidth": 1.2},
 "encoding": {"x": {"field": "inizio", "type": "quantitative", "scale": {"domain": [2009.9056, 2021.907], "nice": false, "zero": false}, "axis": null},
  "y": {"datum": 0, "type": "quantitative", "scale": {"domain": [-9.23, 480], "nice": false, "zero": false}, "axis": null}, "y2": {"datum": 480}}},
{"data": {"name": "anni"},
 "mark": {"type": "rule", "color": "#808080", "strokeWidth": 1.2},
 "encoding": {"x": {"field": "anno", "type": "quantitative", "scale": {"domain": [2009.9056, 2021.907], "nice": false, "zero": false}, "axis": null},
  "y": {"datum": 0, "type": "quantitative", "scale": {"domain": [-9.23, 480], "nice": false, "zero": false}, "axis": null}, "y2": {"datum": 480}}},
{"data": {"name": "stramazzo"},
 "mark": {"type": "line", "strokeWidth": 0.9, "clip": true},
 "encoding": {"x": {"field": "t", "type": "quantitative", "scale": {"domain": [2009.9056, 2021.907], "nice": false, "zero": false}, "axis": null},
  "y": {"field": "portata", "type": "quantitative", "scale": {"domain": [-9.23, 480], "nice": false, "zero": false},
   "axis": {"orient": "left", "values": [0, 40, 80, 120, 160, 200, 240, 280, 320, 360, 400, 440, 480], "labelExpr": "datum.value + '.'", "ticks": false, "domain": false, "grid": false,
    "labelFont": "Liberation Mono", "labelFontSize": 6.5, "labelColor": "#666666", "labelPadding": 1,
    "title": "(L/SEC)", "titleX": -27, "titleY": 2, "titleAngle": 270, "titleAlign": "right", "titleBaseline": "middle", "titleFont": "Liberation Mono", "titleFontSize": 5.5, "titleFontWeight": "normal", "titleColor": "#888888"}},
  "color": {"datum": "STRAMAZZO G", "type": "nominal", "scale": {"domain": ["STRAMAZZO G"], "range": ["#ff1a1a"]},
   "legend": {"orient": "none", "legendX": -44, "legendY": 185, "title": null, "labelExpr": "''", "labelFontSize": 1, "symbolType": "M-0.25,-1H0.25M0,-1V1M-0.25,1H0.25", "symbolSize": 324, "symbolStrokeWidth": 1, "symbolStrokeColor": "#ff1a1a", "symbolFillColor": "transparent", "padding": 0}}}},
{"data": {"values": [{}]},
 "mark": {"type": "rect", "fillOpacity": 0, "stroke": "#999999", "strokeWidth": 1},
 "encoding": {"x": {"datum": 2010, "type": "quantitative", "scale": {"domain": [2009.9056, 2021.907], "nice": false, "zero": false}, "axis": null}, "x2": {"datum": 2021.907},
  "y": {"datum": 0, "type": "quantitative", "scale": {"domain": [-9.23, 480], "nice": false, "zero": false},
   "axis": {"orient": "left", "labels": false, "ticks": false, "domain": false, "grid": false,
    "title": "STRAMAZZO G", "titleX": -34.5, "titleY": 177, "titleAngle": 270, "titleAlign": "left", "titleBaseline": "middle", "titleFont": "Liberation Mono", "titleFontSize": 7, "titleFontWeight": "normal", "titleColor": "#555555"}},
  "y2": {"datum": 480}}}
]
},
{
"width": 1271, "height": 9,
"layer": [
{"data": {"name": "scala"},
 "mark": {"type": "rect", "stroke": "#000000", "strokeWidth": 0.8},
 "encoding": {"x": {"field": "da", "type": "quantitative", "scale": {"domain": [2009.9056, 2021.907], "nice": false, "zero": false}, "axis": null}, "x2": {"field": "a"},
  "y": {"datum": 3, "type": "quantitative", "scale": {"domain": [0, 9], "nice": false, "zero": false}, "axis": null}, "y2": {"datum": 7},
  "fill": {"field": "tono", "type": "nominal", "scale": {"domain": ["scuro", "chiaro"], "range": ["#000000", "#ffffff"]}, "legend": null}}},
{"data": {"name": "scala"},
 "mark": {"type": "rule", "color": "#666666", "strokeWidth": 0.8},
 "encoding": {"x": {"field": "a", "type": "quantitative", "scale": {"domain": [2009.9056, 2021.907], "nice": false, "zero": false}, "axis": null},
  "y": {"datum": 0.5, "type": "quantitative", "scale": {"domain": [0, 9], "nice": false, "zero": false}, "axis": null}, "y2": {"datum": 3}}}
]
}
]
}
